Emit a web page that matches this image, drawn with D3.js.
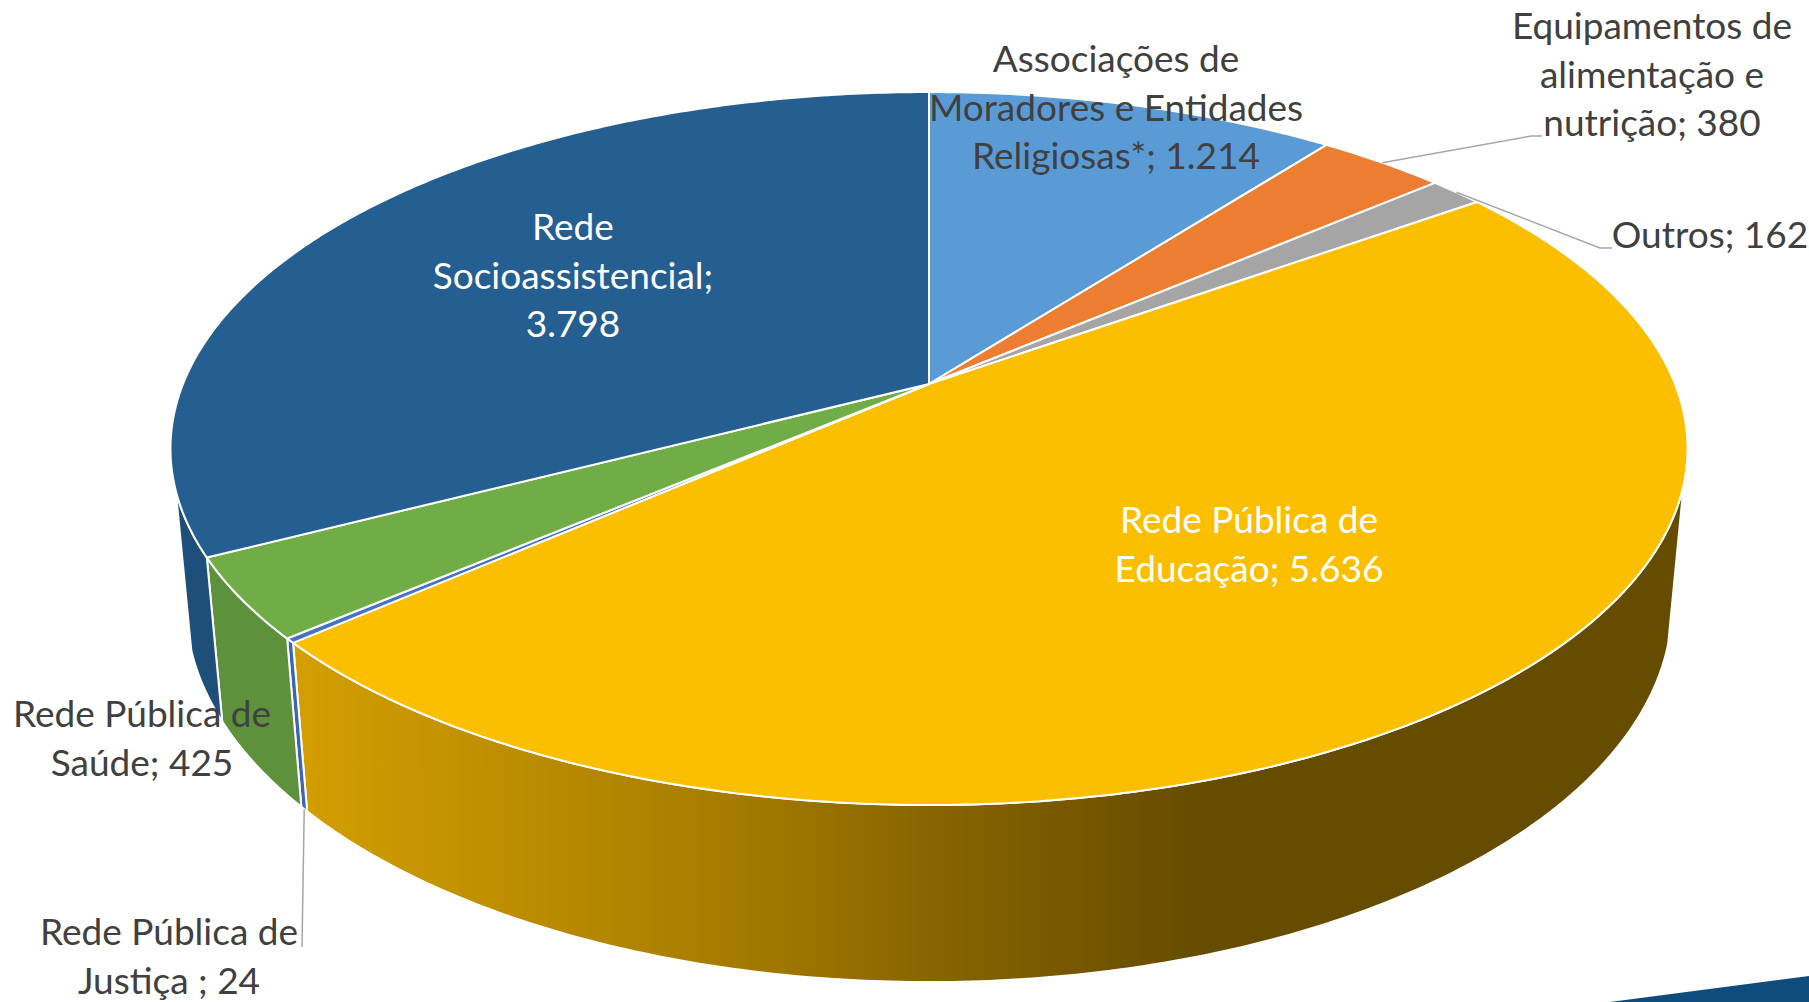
<html lang="pt">
<head>
    <meta charset="utf-8">
    <title>Rede de equipamentos</title>
    <script src="https://d3js.org/d3.v7.min.js"></script>
    <style type="text/css">
        html, body {
            margin: 0;
            background: #fff;
            overflow: hidden;
        }
        .label {
            font-family: Lato, sans-serif;
            font-size: 37px;
            text-anchor: middle;
        }
        .leader {
            fill: none;
            stroke: #a6a6a6;
            stroke-width: 1.5px;
        }
        .top, .wall {
            stroke: #fff;
            stroke-width: 2px;
            stroke-linejoin: round;
        }
    </style>
</head>
<body>
<svg id="chart" width="1809" height="1002"></svg>
<script type="text/javascript">

    var categories = [
        "Associações de Moradores e Entidades Religiosas*",
        "Equipamentos de alimentação e nutrição",
        "Outros",
        "Rede Pública de Educação",
        "Rede Pública de Justiça ",
        "Rede Pública de Saúde",
        "Rede Socioassistencial"
    ];
    var values = [1214, 380, 162, 5636, 24, 425, 3798];

    var topColors = ["#5b9bd5", "#ed7d31", "#a5a5a5", "#fcbf00", "#4472c4", "#70ad47", "#255e91"];
    var wallColors = ["#5b9bd5", "#ed7d31", "#a5a5a5", "url(#yellowWall)", "#3d66b0", "#5d913b", "#1d4f7a"];

    // how many words go on each line of a label, and where the label sits
    var labelWords = [[2, 3, 2], [2, 2, 2], [2], [3, 2], [3, 3], [3, 2], [1, 1, 1]];
    var labelX = [1116, 1652, 1710, 1249, 169, 142, 573];
    var labelY = [72, 39, 248, 533, 945, 727, 240];
    var labelFill = ["#404040", "#404040", "#404040", "#fff", "#404040", "#404040", "#fff"];

    // perspective of the disc, fitted on the picture
    var cx = 929, cy = 384, rx = 746, ry = 344.8, persp = 0.181;
    var lowerScale = 0.02, lowerDrop = 157;
    var frontStart = 106 * Math.PI / 180, frontEnd = 253 * Math.PI / 180;

    var svg = d3.select("#chart");
    var ptBR = d3.formatLocale({decimal: ",", thousands: ".", grouping: [3], currency: ["R$", ""]});
    var fmt = ptBR.format(",d");

    // a = clockwise from 12 o'clock, low = 0 for the top face, 1 for the bottom one
    function project(a, low) {
        var u = Math.sin(a), v = Math.cos(a);
        var w = 1 + persp * v + low * lowerScale;
        return [cx + rx * u / w, cy + (-ry * v + low * lowerDrop) / w];
    }

    function samples(a0, a1) {
        var n = Math.max(2, Math.ceil((a1 - a0) / 0.01));
        return d3.range(n + 1).map(function (i) {
            return a0 + (a1 - a0) * i / n;
        });
    }

    var line = d3.line();
    var slices = d3.pie().sort(null).value(function (d) { return d; })(values);

    var grad = svg.append("defs").append("linearGradient")
        .attr("id", "yellowWall")
        .attr("gradientUnits", "userSpaceOnUse")
        .attr("x1", 300).attr("x2", 1200).attr("y1", 0).attr("y2", 0);
    grad.append("stop").attr("offset", 0).attr("stop-color", "#d29e00");
    grad.append("stop").attr("offset", 0.44).attr("stop-color", "#aa7f00");
    grad.append("stop").attr("offset", 0.72).attr("stop-color", "#866300");
    grad.append("stop").attr("offset", 1).attr("stop-color", "#664c00");

    // walls first, the top face covers whatever is left behind it
    svg.selectAll(".wall")
        .data(slices.filter(function (d) {
            return d.endAngle > frontStart && d.startAngle < frontEnd;
        }))
        .enter().append("path")
        .attr("class", "wall")
        .attr("fill", function (d) { return wallColors[d.index]; })
        .attr("d", function (d) {
            var s = samples(Math.max(d.startAngle, frontStart), Math.min(d.endAngle, frontEnd));
            var upper = s.map(function (a) { return project(a, 0); });
            var lower = s.slice().reverse().map(function (a) { return project(a, 1); });
            return line(upper.concat(lower)) + "Z";
        });

    svg.selectAll(".top")
        .data(slices)
        .enter().append("path")
        .attr("class", "top")
        .attr("fill", function (d) { return topColors[d.index]; })
        .attr("d", function (d) {
            var rim = samples(d.startAngle, d.endAngle).map(function (a) { return project(a, 0); });
            return line([[cx, cy]].concat(rim)) + "Z";
        });

    // leader lines start on the rim at the middle of their slice
    function midAngle(i) {
        return (slices[i].startAngle + slices[i].endAngle) / 2;
    }
    var leaders = [
        {from: project(midAngle(1), 0), to: [[1531, 136], [1542, 136]]},
        {from: project(midAngle(2), 0), to: [[1600, 248], [1612, 248]]},
        {from: project(midAngle(4), 1), to: [[302, 947]]}
    ];
    svg.selectAll(".leader")
        .data(leaders)
        .enter().append("path")
        .attr("class", "leader")
        .attr("d", function (d) { return line([d.from].concat(d.to)); });

    // corner of the slide decoration
    svg.append("path")
        .attr("fill", "#0e4c7e")
        .attr("d", line([[1610, 1002], [1809, 976], [1809, 1002]]) + "Z");

    var labels = svg.selectAll(".label")
        .data(categories)
        .enter().append("text")
        .attr("class", "label")
        .attr("fill", function (d, i) { return labelFill[i]; });

    labels.each(function (d, i) {
        var words = (d + "; " + fmt(values[i])).split(" ");
        var used = 0;
        var t = d3.select(this);
        labelWords[i].forEach(function (count, row) {
            t.append("tspan")
                .attr("x", labelX[i])
                .attr("y", labelY[i] + row * 48.5)
                .text(words.slice(used, used + count).join(" "));
            used += count;
        });
    });
</script>
</body>
</html>
